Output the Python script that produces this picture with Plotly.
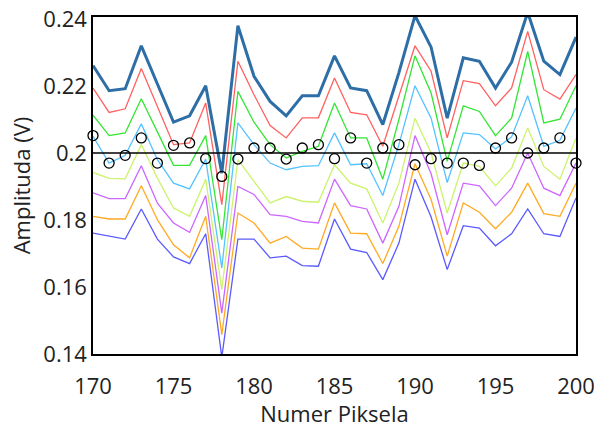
import plotly.graph_objects as go

pixels = list(range(170, 201))

level_top = [0.2261, 0.2186, 0.2192, 0.2320, 0.2206, 0.2092, 0.2111, 0.2201, 0.1940, 0.2380,
             0.2229, 0.2154, 0.2111, 0.2171, 0.2171, 0.2290, 0.2194, 0.2186, 0.2085, 0.2240,
             0.2410, 0.2316, 0.2104, 0.2284, 0.2274, 0.2194, 0.2271, 0.2420, 0.2274, 0.2234, 0.2346]
level_red = [0.2194, 0.2121, 0.2132, 0.2252, 0.2139, 0.2025, 0.2030, 0.2149, 0.1846, 0.2274,
             0.2174, 0.2082, 0.2045, 0.2105, 0.2105, 0.2224, 0.2121, 0.2114, 0.2020, 0.2170,
             0.2320, 0.2244, 0.2045, 0.2216, 0.2207, 0.2141, 0.2194, 0.2363, 0.2189, 0.2161, 0.2234]
level_green = [0.2113, 0.2052, 0.2060, 0.2162, 0.2063, 0.1963, 0.1963, 0.2052, 0.1741, 0.2184,
               0.2092, 0.2025, 0.1985, 0.2005, 0.2020, 0.2149, 0.2045, 0.2045, 0.1922, 0.2100,
               0.2290, 0.2179, 0.1975, 0.2141, 0.2124, 0.2052, 0.2104, 0.2303, 0.2090, 0.2101, 0.2201]
level_lightblue = [0.2050, 0.1970, 0.1993, 0.2087, 0.1980, 0.1910, 0.1893, 0.1982, 0.1657, 0.2090,
                   0.2025, 0.1970, 0.1950, 0.1960, 0.1962, 0.2060, 0.1965, 0.1968, 0.1873, 0.2025,
                   0.2201, 0.2104, 0.1912, 0.2060, 0.2055, 0.2012, 0.2048, 0.2171, 0.2020, 0.2038, 0.2134]
level_yellowgreen = [0.1942, 0.1924, 0.1923, 0.2025, 0.1925, 0.1836, 0.1811, 0.1922, 0.1592, 0.1980,
                     0.1915, 0.1851, 0.1870, 0.1856, 0.1853, 0.1965, 0.1910, 0.1893, 0.1791, 0.1910,
                     0.2104, 0.2000, 0.1821, 0.1970, 0.1960, 0.1902, 0.1955, 0.2075, 0.1960, 0.1922, 0.2045]
level_purple = [0.1881, 0.1864, 0.1864, 0.1962, 0.1850, 0.1791, 0.1763, 0.1873, 0.1522, 0.1900,
                0.1876, 0.1816, 0.1811, 0.1796, 0.1791, 0.1922, 0.1843, 0.1833, 0.1731, 0.1841,
                0.2052, 0.1938, 0.1756, 0.1910, 0.1902, 0.1843, 0.1895, 0.2000, 0.1895, 0.1873, 0.1970]
level_orange = [0.1811, 0.1803, 0.1803, 0.1902, 0.1801, 0.1726, 0.1687, 0.1811, 0.1458, 0.1821,
                0.1791, 0.1731, 0.1751, 0.1716, 0.1713, 0.1851, 0.1761, 0.1759, 0.1670, 0.1781,
                0.1968, 0.1861, 0.1692, 0.1851, 0.1823, 0.1774, 0.1823, 0.1910, 0.1819, 0.1811, 0.1910]
level_blue = [0.1761, 0.1751, 0.1743, 0.1833, 0.1743, 0.1690, 0.1670, 0.1759, 0.1390, 0.1743,
              0.1743, 0.1687, 0.1692, 0.1664, 0.1662, 0.1803, 0.1713, 0.1703, 0.1622, 0.1731,
              0.1922, 0.1809, 0.1652, 0.1783, 0.1776, 0.1723, 0.1759, 0.1833, 0.1759, 0.1751, 0.1866]
measured = [0.2052, 0.1970, 0.1993, 0.2045, 0.1970, 0.2023, 0.2030, 0.1983, 0.1930, 0.1982,
            0.2015, 0.2015, 0.1982, 0.2015, 0.2025, 0.1983, 0.2045, 0.1970, 0.2015, 0.2025,
            0.1965, 0.1983, 0.1970, 0.1970, 0.1963, 0.2015, 0.2045, 0.2000, 0.2015, 0.2045, 0.1970]

ref_level = 0.2
x_ticks = [170, 175, 180, 185, 190, 195, 200]
y_ticks = [0.14, 0.16, 0.18, 0.2, 0.22, 0.24]
y_tick_labels = ["0.14", "0.16", "0.18", "0.2", "0.22", "0.24"]

series = [
    (level_blue, "#5a5aff", 1.3),
    (level_orange, "#ffaa22", 1.3),
    (level_purple, "#cc66ff", 1.3),
    (level_yellowgreen, "#cdf26e", 1.3),
    (level_lightblue, "#55c3ff", 1.3),
    (level_green, "#33e633", 1.3),
    (level_red, "#ff6060", 1.3),
    (level_top, "#2e6ea6", 3.0),
]

fig = go.Figure()
for vals, col, w in series:
    fig.add_trace(go.Scatter(x=pixels, y=vals, mode="lines",
                             line=dict(color=col, width=w), showlegend=False,
                             hoverinfo="skip"))

fig.add_trace(go.Scatter(x=[pixels[0], pixels[-1]], y=[ref_level, ref_level], mode="lines",
                         line=dict(color="black", width=1.6), showlegend=False))

fig.add_trace(go.Scatter(x=pixels, y=measured, mode="markers",
                         marker=dict(symbol="circle-open", size=10, color="black",
                                     line=dict(width=1.3, color="black")),
                         cliponaxis=False, showlegend=False))

font_family = "Open Sans, DejaVu Sans, sans-serif"
fig.update_layout(
    width=594, height=428,
    margin=dict(l=93, r=18, t=17, b=74),
    paper_bgcolor="white", plot_bgcolor="white",
    font=dict(family=font_family, size=22, color="#222222"),
)
fig.update_xaxes(range=[170, 200], tickvals=x_ticks, showgrid=False, zeroline=False,
                 showline=True, mirror=True, linecolor="black", linewidth=1.5,
                 ticks="", automargin=False, ticklabelstandoff=12, ticklabeloverflow="allow",
                 title=dict(text="Numer Piksela", font=dict(size=22), standoff=17),
                 tickfont=dict(size=22))
fig.update_yaxes(range=[0.14, 0.2406], tickvals=y_ticks, ticktext=y_tick_labels,
                 showgrid=False, zeroline=False,
                 showline=True, mirror=True, linecolor="black", linewidth=1.5,
                 ticks="", automargin=False, ticklabeloverflow="allow",
                 title=dict(text="Amplituda (V)", font=dict(size=22), standoff=7),
                 tickfont=dict(size=22))

fig.write_html("out.html", config={"displayModeBar": False},
               post_script="document.body.style.margin='0';document.body.style.overflow='hidden';")
